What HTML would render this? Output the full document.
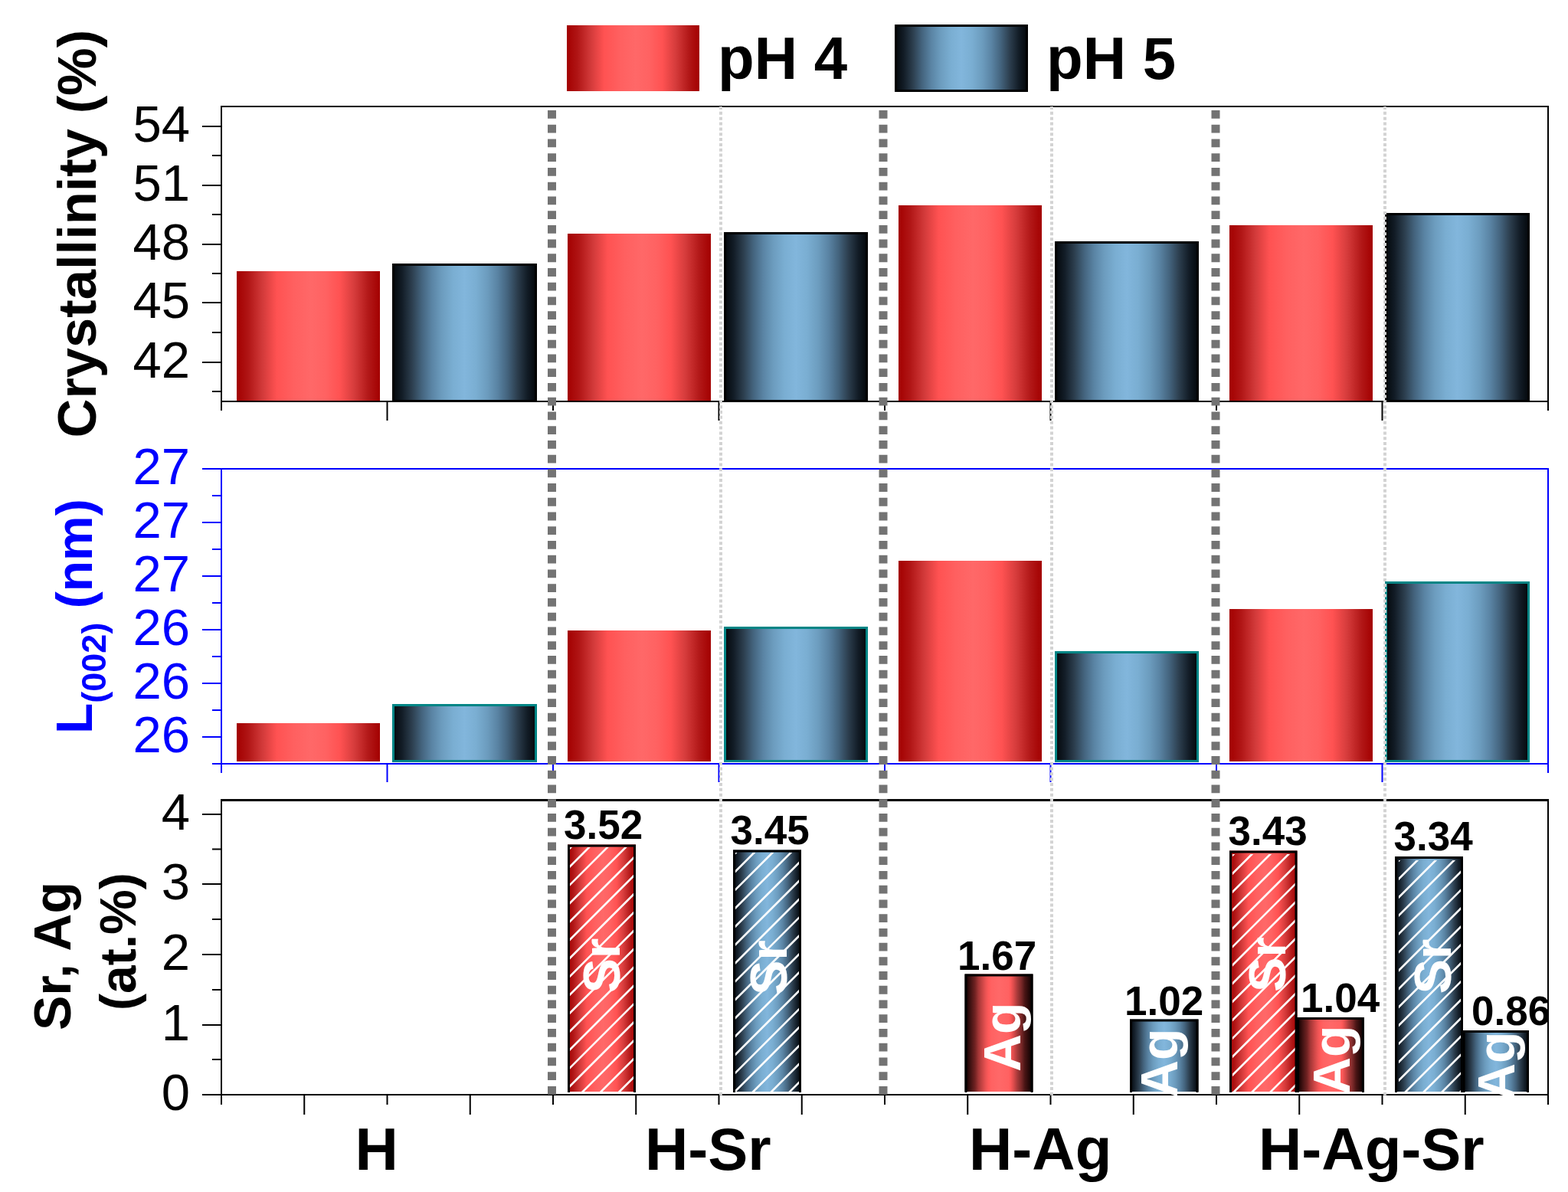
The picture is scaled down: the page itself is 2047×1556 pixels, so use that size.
<!DOCTYPE html>
<html><head><meta charset="utf-8"><title>Crystallinity, L(002) and Sr/Ag content</title>
<style>html,body{margin:0;padding:0;background:#fff;overflow:hidden}svg{display:block}</style>
</head><body>
<svg width="2047" height="1556" viewBox="0 0 2047 1556" font-family="'Liberation Sans', Arial, sans-serif"><defs>
<linearGradient id="gRed" x1="0" y1="0" x2="1" y2="0">
  <stop offset="0" stop-color="#a30000"/>
  <stop offset="0.08" stop-color="#b01515"/>
  <stop offset="0.18" stop-color="#d23a3a"/>
  <stop offset="0.28" stop-color="#ff5252"/>
  <stop offset="0.40" stop-color="#ff6060"/>
  <stop offset="0.52" stop-color="#ff6868"/>
  <stop offset="0.62" stop-color="#ff6262"/>
  <stop offset="0.72" stop-color="#ff5252"/>
  <stop offset="0.82" stop-color="#d63c3c"/>
  <stop offset="0.92" stop-color="#b21818"/>
  <stop offset="1" stop-color="#a30000"/>
</linearGradient>
<linearGradient id="gBlue" x1="0" y1="0" x2="1" y2="0">
  <stop offset="0" stop-color="#04080c"/>
  <stop offset="0.06" stop-color="#121c26"/>
  <stop offset="0.13" stop-color="#2c3e4e"/>
  <stop offset="0.20" stop-color="#44647e"/>
  <stop offset="0.27" stop-color="#5a84a4"/>
  <stop offset="0.34" stop-color="#6c9cbe"/>
  <stop offset="0.42" stop-color="#7aaed2"/>
  <stop offset="0.50" stop-color="#82b6dc"/>
  <stop offset="0.58" stop-color="#7aaed2"/>
  <stop offset="0.66" stop-color="#6c9cbe"/>
  <stop offset="0.73" stop-color="#5a84a4"/>
  <stop offset="0.80" stop-color="#44647e"/>
  <stop offset="0.87" stop-color="#2c3e4e"/>
  <stop offset="0.94" stop-color="#121c26"/>
  <stop offset="1" stop-color="#04080c"/>
</linearGradient>
<linearGradient id="gRedK" x1="0" y1="0" x2="1" y2="0">
  <stop offset="0" stop-color="#120000"/>
  <stop offset="0.03" stop-color="#1a0202"/>
  <stop offset="0.09" stop-color="#451414"/>
  <stop offset="0.15" stop-color="#702222"/>
  <stop offset="0.20" stop-color="#a33636"/>
  <stop offset="0.26" stop-color="#cc4646"/>
  <stop offset="0.31" stop-color="#ec5454"/>
  <stop offset="0.35" stop-color="#ff5a5a"/>
  <stop offset="0.39" stop-color="#ff6262"/>
  <stop offset="0.50" stop-color="#ff6868"/>
  <stop offset="0.64" stop-color="#ff6262"/>
  <stop offset="0.67" stop-color="#ff5a5a"/>
  <stop offset="0.72" stop-color="#d84a4a"/>
  <stop offset="0.77" stop-color="#a83a3a"/>
  <stop offset="0.83" stop-color="#7a2828"/>
  <stop offset="0.88" stop-color="#4a1515"/>
  <stop offset="0.96" stop-color="#1a0505"/>
  <stop offset="1" stop-color="#120000"/>
</linearGradient>
<clipPath id="hc1"><rect x="744" y="1106" width="83" height="319"/></clipPath><clipPath id="hc2"><rect x="960" y="1113" width="83" height="312"/></clipPath><clipPath id="hc3"><rect x="1609" y="1115" width="81.5" height="310"/></clipPath><clipPath id="hc4"><rect x="1826" y="1123" width="81" height="302"/></clipPath><clipPath id="clipLayer"><rect x="289" y="1044" width="1732" height="386"/></clipPath><clipPath id="clipVal"><rect x="289" y="1040" width="1731" height="390"/></clipPath></defs><rect width="2047" height="1556" fill="#fff"/><rect x="740" y="33" width="173" height="86" fill="url(#gRed)"/>
<text x="937" y="103" font-size="78" font-weight="bold" fill="#000" text-anchor="start" >pH 4</text>
<rect x="1169.5" y="33.5" width="171" height="85" fill="url(#gBlue)" stroke="#000" stroke-width="3"/>
<text x="1366" y="103" font-size="78" font-weight="bold" fill="#000" text-anchor="start" >pH 5</text>
<rect x="309" y="354" width="187" height="170" fill="url(#gRed)"/>
<rect x="741" y="305" width="187" height="219" fill="url(#gRed)"/>
<rect x="1173" y="268" width="187" height="256" fill="url(#gRed)"/>
<rect x="1605" y="294" width="187" height="230" fill="url(#gRed)"/>
<rect x="513.5" y="345.5" width="186" height="178" fill="url(#gBlue)" stroke="#000" stroke-width="3"/>
<rect x="946.5" y="304.5" width="185" height="219" fill="url(#gBlue)" stroke="#000" stroke-width="3"/>
<rect x="1378.5" y="316.5" width="185" height="207" fill="url(#gBlue)" stroke="#000" stroke-width="3"/>
<rect x="1809.5" y="279.5" width="186" height="244" fill="url(#gBlue)" stroke="#000" stroke-width="3"/>
<rect x="309" y="944" width="187" height="50" fill="url(#gRed)"/>
<rect x="741" y="823" width="187" height="171" fill="url(#gRed)"/>
<rect x="1173" y="732" width="187" height="262" fill="url(#gRed)"/>
<rect x="1605" y="795" width="187" height="199" fill="url(#gRed)"/>
<rect x="513.5" y="920.5" width="186" height="73" fill="url(#gBlue)" stroke="#008585" stroke-width="3"/>
<rect x="946.5" y="819.5" width="185" height="174" fill="url(#gBlue)" stroke="#008585" stroke-width="3"/>
<rect x="1378.5" y="851.5" width="185" height="142" fill="url(#gBlue)" stroke="#008585" stroke-width="3"/>
<rect x="1809.5" y="760.5" width="186" height="233" fill="url(#gBlue)" stroke="#008585" stroke-width="3"/>
<rect x="741" y="1102.5" width="89" height="322.5" fill="url(#gRed)"/><path d="M742.5,1426V1104.0H828.5V1426" fill="none" stroke="#000" stroke-width="3" stroke-linejoin="miter"/><path clip-path="url(#hc1)" d="M421.20000000000005,1430L750.2,1101M445.10000000000014,1430L774.1000000000001,1101M469.0000000000002,1430L798.0000000000002,1101M492.9000000000003,1430L821.9000000000003,1101M516.8000000000004,1430L845.8000000000004,1101M540.7000000000005,1430L869.7000000000005,1101M564.6000000000006,1430L893.6000000000006,1101M588.5000000000007,1430L917.5000000000007,1101M612.4000000000008,1430L941.4000000000008,1101M636.3000000000006,1430L965.3000000000006,1101M660.2000000000007,1430L989.2000000000007,1101M684.1000000000008,1430L1013.1000000000008,1101M708.0000000000009,1430L1037.000000000001,1101M731.900000000001,1430L1060.900000000001,1101M755.8000000000011,1430L1084.800000000001,1101M779.7000000000012,1430L1108.7000000000012,1101M803.6000000000013,1430L1132.6000000000013,1101M827.5000000000014,1430L1156.5000000000014,1101M851.4000000000015,1430L1180.4000000000015,1101" stroke="#fff" stroke-width="2.6" fill="none"/>
<rect x="957" y="1109.5" width="89" height="315.5" fill="url(#gBlue)"/><path d="M958.5,1426V1111.0H1044.5V1426" fill="none" stroke="#000" stroke-width="3" stroke-linejoin="miter"/><path clip-path="url(#hc2)" d="M643.6999999999998,1430L965.6999999999998,1108M667.5999999999999,1430L989.5999999999999,1108M691.5,1430L1013.5,1108M715.4000000000001,1430L1037.4,1108M739.3000000000002,1430L1061.3000000000002,1108M763.2000000000003,1430L1085.2000000000003,1108M787.1000000000004,1430L1109.1000000000004,1108M811.0000000000005,1430L1133.0000000000005,1108M834.9000000000005,1430L1156.9000000000005,1108M858.8000000000006,1430L1180.8000000000006,1108M882.7000000000007,1430L1204.7000000000007,1108M906.6000000000008,1430L1228.6000000000008,1108M930.5000000000009,1430L1252.500000000001,1108M954.400000000001,1430L1276.400000000001,1108M978.3000000000011,1430L1300.300000000001,1108M1002.2000000000012,1430L1324.2000000000012,1108M1026.1000000000013,1430L1348.1000000000013,1108M1050.0000000000014,1430L1372.0000000000014,1108" stroke="#fff" stroke-width="2.6" fill="none"/>
<rect x="1259.5" y="1271.5" width="89.0" height="153.5" fill="url(#gRedK)"/><path d="M1261.0,1426V1273.0H1347.0V1426" fill="none" stroke="#000" stroke-width="3" stroke-linejoin="miter"/>
<rect x="1475" y="1330.5" width="89.5" height="94.5" fill="url(#gBlue)"/><path d="M1476.5,1426V1332.0H1563.0V1426" fill="none" stroke="#000" stroke-width="3" stroke-linejoin="miter"/>
<rect x="1605" y="1110.5" width="88.5" height="314.5" fill="url(#gRed)"/><path d="M1606.5,1426V1112.0H1692.0V1426" fill="none" stroke="#000" stroke-width="3" stroke-linejoin="miter"/><path clip-path="url(#hc3)" d="M1295.5,1430L1615.5,1110M1319.4,1430L1639.4,1110M1343.3000000000002,1430L1663.3000000000002,1110M1367.2000000000003,1430L1687.2000000000003,1110M1391.1000000000004,1430L1711.1000000000004,1110M1415.0000000000005,1430L1735.0000000000005,1110M1438.9000000000005,1430L1758.9000000000005,1110M1462.8000000000006,1430L1782.8000000000006,1110M1486.7000000000007,1430L1806.7000000000007,1110M1510.6000000000008,1430L1830.6000000000008,1110M1534.500000000001,1430L1854.500000000001,1110M1558.400000000001,1430L1878.400000000001,1110M1582.300000000001,1430L1902.300000000001,1110M1606.2000000000012,1430L1926.2000000000012,1110M1630.1000000000013,1430L1950.1000000000013,1110M1654.0000000000014,1430L1974.0000000000014,1110M1677.9000000000015,1430L1997.9000000000015,1110M1701.8000000000015,1430L2021.8000000000015,1110" stroke="#fff" stroke-width="2.6" fill="none"/>
<rect x="1693" y="1328" width="88" height="97" fill="url(#gRedK)"/><path d="M1694.5,1426V1329.5H1779.5V1426" fill="none" stroke="#000" stroke-width="3" stroke-linejoin="miter"/>
<rect x="1821" y="1118" width="89" height="307" fill="url(#gBlue)"/><path d="M1822.5,1426V1119.5H1908.5V1426" fill="none" stroke="#000" stroke-width="3" stroke-linejoin="miter"/><path clip-path="url(#hc4)" d="M1519.5,1430L1831.5,1118M1543.4,1430L1855.4,1118M1567.3000000000002,1430L1879.3000000000002,1118M1591.2000000000003,1430L1903.2000000000003,1118M1615.1000000000004,1430L1927.1000000000004,1118M1639.0000000000005,1430L1951.0000000000005,1118M1662.9000000000005,1430L1974.9000000000005,1118M1686.8000000000006,1430L1998.8000000000006,1118M1710.7000000000007,1430L2022.7000000000007,1118M1734.6000000000008,1430L2046.6000000000008,1118M1758.500000000001,1430L2070.500000000001,1118M1782.400000000001,1430L2094.400000000001,1118M1806.300000000001,1430L2118.300000000001,1118M1830.2000000000012,1430L2142.200000000001,1118M1854.1000000000013,1430L2166.1000000000013,1118M1878.0000000000014,1430L2190.0000000000014,1118M1901.9000000000015,1430L2213.9000000000015,1118M1925.8000000000015,1430L2237.8000000000015,1118" stroke="#fff" stroke-width="2.6" fill="none"/>
<rect x="1909.5" y="1345" width="86.5" height="80" fill="url(#gBlue)"/><path d="M1911.0,1426V1346.5H1994.5V1426" fill="none" stroke="#000" stroke-width="3" stroke-linejoin="miter"/>
<line x1="288" y1="139" x2="2022" y2="139" stroke="#000" stroke-width="2"/>
<line x1="288" y1="524" x2="2022" y2="524" stroke="#000" stroke-width="2"/>
<line x1="289" y1="138" x2="289" y2="525" stroke="#000" stroke-width="2"/>
<line x1="2021" y1="138" x2="2021" y2="525" stroke="#000" stroke-width="2"/>
<line x1="288" y1="612" x2="2022" y2="612" stroke="#0000ff" stroke-width="2"/>
<line x1="288" y1="997" x2="2022" y2="997" stroke="#0000ff" stroke-width="2"/>
<line x1="289" y1="611" x2="289" y2="998" stroke="#0000ff" stroke-width="2"/>
<line x1="2021" y1="611" x2="2021" y2="998" stroke="#0000ff" stroke-width="2"/>
<line x1="288" y1="1044.5" x2="2022" y2="1044.5" stroke="#000" stroke-width="3"/>
<line x1="288" y1="1429" x2="2022" y2="1429" stroke="#000" stroke-width="2"/>
<line x1="289" y1="1043.5" x2="289" y2="1430" stroke="#000" stroke-width="2"/>
<line x1="2021" y1="1043.5" x2="2021" y2="1430" stroke="#000" stroke-width="2"/>
<line x1="264" y1="165" x2="289" y2="165" stroke="#000" stroke-width="2"/>
<line x1="264" y1="242" x2="289" y2="242" stroke="#000" stroke-width="2"/>
<line x1="264" y1="319" x2="289" y2="319" stroke="#000" stroke-width="2"/>
<line x1="264" y1="395" x2="289" y2="395" stroke="#000" stroke-width="2"/>
<line x1="264" y1="473" x2="289" y2="473" stroke="#000" stroke-width="2"/>
<line x1="277" y1="203" x2="289" y2="203" stroke="#000" stroke-width="2"/>
<line x1="277" y1="280" x2="289" y2="280" stroke="#000" stroke-width="2"/>
<line x1="277" y1="357" x2="289" y2="357" stroke="#000" stroke-width="2"/>
<line x1="277" y1="434" x2="289" y2="434" stroke="#000" stroke-width="2"/>
<line x1="277" y1="511" x2="289" y2="511" stroke="#000" stroke-width="2"/>
<text x="248" y="185" font-size="67" font-weight="normal" fill="#000" text-anchor="end" >54</text>
<text x="248" y="262" font-size="67" font-weight="normal" fill="#000" text-anchor="end" >51</text>
<text x="248" y="339" font-size="67" font-weight="normal" fill="#000" text-anchor="end" >48</text>
<text x="248" y="415" font-size="67" font-weight="normal" fill="#000" text-anchor="end" >45</text>
<text x="248" y="493" font-size="67" font-weight="normal" fill="#000" text-anchor="end" >42</text>
<line x1="264" y1="612" x2="289" y2="612" stroke="#0000ff" stroke-width="2"/>
<line x1="264" y1="682" x2="289" y2="682" stroke="#0000ff" stroke-width="2"/>
<line x1="264" y1="752" x2="289" y2="752" stroke="#0000ff" stroke-width="2"/>
<line x1="264" y1="822" x2="289" y2="822" stroke="#0000ff" stroke-width="2"/>
<line x1="264" y1="892" x2="289" y2="892" stroke="#0000ff" stroke-width="2"/>
<line x1="264" y1="962" x2="289" y2="962" stroke="#0000ff" stroke-width="2"/>
<line x1="277" y1="647" x2="289" y2="647" stroke="#0000ff" stroke-width="2"/>
<line x1="277" y1="717" x2="289" y2="717" stroke="#0000ff" stroke-width="2"/>
<line x1="277" y1="787" x2="289" y2="787" stroke="#0000ff" stroke-width="2"/>
<line x1="277" y1="857" x2="289" y2="857" stroke="#0000ff" stroke-width="2"/>
<line x1="277" y1="927" x2="289" y2="927" stroke="#0000ff" stroke-width="2"/>
<line x1="277" y1="997" x2="289" y2="997" stroke="#0000ff" stroke-width="2"/>
<text x="248" y="632" font-size="67" font-weight="normal" fill="#0000ff" text-anchor="end" >27</text>
<text x="248" y="702" font-size="67" font-weight="normal" fill="#0000ff" text-anchor="end" >27</text>
<text x="248" y="772" font-size="67" font-weight="normal" fill="#0000ff" text-anchor="end" >27</text>
<text x="248" y="842" font-size="67" font-weight="normal" fill="#0000ff" text-anchor="end" >26</text>
<text x="248" y="912" font-size="67" font-weight="normal" fill="#0000ff" text-anchor="end" >26</text>
<text x="248" y="982" font-size="67" font-weight="normal" fill="#0000ff" text-anchor="end" >26</text>
<line x1="264" y1="1063" x2="289" y2="1063" stroke="#000" stroke-width="2"/>
<line x1="264" y1="1154" x2="289" y2="1154" stroke="#000" stroke-width="2"/>
<line x1="264" y1="1246" x2="289" y2="1246" stroke="#000" stroke-width="2"/>
<line x1="264" y1="1338" x2="289" y2="1338" stroke="#000" stroke-width="2"/>
<line x1="264" y1="1429" x2="289" y2="1429" stroke="#000" stroke-width="2"/>
<line x1="277" y1="1108.5" x2="289" y2="1108.5" stroke="#000" stroke-width="2"/>
<line x1="277" y1="1200" x2="289" y2="1200" stroke="#000" stroke-width="2"/>
<line x1="277" y1="1292" x2="289" y2="1292" stroke="#000" stroke-width="2"/>
<line x1="277" y1="1383" x2="289" y2="1383" stroke="#000" stroke-width="2"/>
<text x="248" y="1083" font-size="67" font-weight="normal" fill="#000" text-anchor="end" >4</text>
<text x="248" y="1174" font-size="67" font-weight="normal" fill="#000" text-anchor="end" >3</text>
<text x="248" y="1266" font-size="67" font-weight="normal" fill="#000" text-anchor="end" >2</text>
<text x="248" y="1358" font-size="67" font-weight="normal" fill="#000" text-anchor="end" >1</text>
<text x="248" y="1449" font-size="67" font-weight="normal" fill="#000" text-anchor="end" >0</text>
<line x1="289.0" y1="1429" x2="289.0" y2="1442" stroke="#000" stroke-width="2"/>
<line x1="397.25" y1="1429" x2="397.25" y2="1455" stroke="#000" stroke-width="2"/>
<line x1="505.5" y1="1429" x2="505.5" y2="1442" stroke="#000" stroke-width="2"/>
<line x1="613.75" y1="1429" x2="613.75" y2="1455" stroke="#000" stroke-width="2"/>
<line x1="722.0" y1="1429" x2="722.0" y2="1442" stroke="#000" stroke-width="2"/>
<line x1="830.25" y1="1429" x2="830.25" y2="1455" stroke="#000" stroke-width="2"/>
<line x1="938.5" y1="1429" x2="938.5" y2="1442" stroke="#000" stroke-width="2"/>
<line x1="1046.75" y1="1429" x2="1046.75" y2="1455" stroke="#000" stroke-width="2"/>
<line x1="1155.0" y1="1429" x2="1155.0" y2="1442" stroke="#000" stroke-width="2"/>
<line x1="1263.25" y1="1429" x2="1263.25" y2="1455" stroke="#000" stroke-width="2"/>
<line x1="1371.5" y1="1429" x2="1371.5" y2="1442" stroke="#000" stroke-width="2"/>
<line x1="1479.75" y1="1429" x2="1479.75" y2="1455" stroke="#000" stroke-width="2"/>
<line x1="1588.0" y1="1429" x2="1588.0" y2="1442" stroke="#000" stroke-width="2"/>
<line x1="1696.25" y1="1429" x2="1696.25" y2="1455" stroke="#000" stroke-width="2"/>
<line x1="1804.5" y1="1429" x2="1804.5" y2="1442" stroke="#000" stroke-width="2"/>
<line x1="1912.75" y1="1429" x2="1912.75" y2="1455" stroke="#000" stroke-width="2"/>
<line x1="2021.0" y1="1429" x2="2021.0" y2="1442" stroke="#000" stroke-width="2"/>
<line x1="289.0" y1="524" x2="289.0" y2="536" stroke="#000" stroke-width="2"/>
<line x1="289.0" y1="997" x2="289.0" y2="1009" stroke="#0000ff" stroke-width="2"/>
<line x1="505.5" y1="524" x2="505.5" y2="549" stroke="#000" stroke-width="2"/>
<line x1="505.5" y1="997" x2="505.5" y2="1021" stroke="#0000ff" stroke-width="2"/>
<line x1="722.0" y1="524" x2="722.0" y2="536" stroke="#000" stroke-width="2"/>
<line x1="722.0" y1="997" x2="722.0" y2="1009" stroke="#0000ff" stroke-width="2"/>
<line x1="938.5" y1="524" x2="938.5" y2="549" stroke="#000" stroke-width="2"/>
<line x1="938.5" y1="997" x2="938.5" y2="1021" stroke="#0000ff" stroke-width="2"/>
<line x1="1155.0" y1="524" x2="1155.0" y2="536" stroke="#000" stroke-width="2"/>
<line x1="1155.0" y1="997" x2="1155.0" y2="1009" stroke="#0000ff" stroke-width="2"/>
<line x1="1371.5" y1="524" x2="1371.5" y2="549" stroke="#000" stroke-width="2"/>
<line x1="1371.5" y1="997" x2="1371.5" y2="1021" stroke="#0000ff" stroke-width="2"/>
<line x1="1588.0" y1="524" x2="1588.0" y2="536" stroke="#000" stroke-width="2"/>
<line x1="1588.0" y1="997" x2="1588.0" y2="1009" stroke="#0000ff" stroke-width="2"/>
<line x1="1804.5" y1="524" x2="1804.5" y2="549" stroke="#000" stroke-width="2"/>
<line x1="1804.5" y1="997" x2="1804.5" y2="1021" stroke="#0000ff" stroke-width="2"/>
<line x1="2021.0" y1="524" x2="2021.0" y2="536" stroke="#000" stroke-width="2"/>
<line x1="2021.0" y1="997" x2="2021.0" y2="1009" stroke="#0000ff" stroke-width="2"/>
<text transform="translate(809,1296.5) rotate(-90)" font-size="68" font-weight="bold" fill="#fff" text-anchor="start">Sr</text>
<text transform="translate(1027,1299) rotate(-90)" font-size="68" font-weight="bold" fill="#fff" text-anchor="start">Sr</text>
<text transform="translate(1677.5,1295) rotate(-90)" font-size="68" font-weight="bold" fill="#fff" text-anchor="start">Sr</text>
<text transform="translate(1894,1297.5) rotate(-90)" font-size="68" font-weight="bold" fill="#fff" text-anchor="start">Sr</text>
<text transform="translate(1332,1399) rotate(-90)" font-size="68" font-weight="bold" fill="#fff" text-anchor="start">Ag</text>
<g clip-path="url(#clipLayer)"><text transform="translate(1537,1433) rotate(-90)" font-size="68" font-weight="bold" fill="#fff" text-anchor="start">Ag</text></g>
<g clip-path="url(#clipLayer)"><text transform="translate(1761.5,1429) rotate(-90)" font-size="68" font-weight="bold" fill="#fff" text-anchor="start">Ag</text></g>
<g clip-path="url(#clipLayer)"><text transform="translate(1977,1437) rotate(-90)" font-size="68" font-weight="bold" fill="#fff" text-anchor="start">Ag</text></g>
<g clip-path="url(#clipVal)">
<text x="736" y="1095" font-size="53" font-weight="bold" fill="#000" text-anchor="start" >3.52</text>
<text x="953.5" y="1102" font-size="53" font-weight="bold" fill="#000" text-anchor="start" >3.45</text>
<text x="1250" y="1265.5" font-size="53" font-weight="bold" fill="#000" text-anchor="start" >1.67</text>
<text x="1468" y="1325" font-size="53" font-weight="bold" fill="#000" text-anchor="start" >1.02</text>
<text x="1603.5" y="1102.7" font-size="53" font-weight="bold" fill="#000" text-anchor="start" >3.43</text>
<text x="1698" y="1321.3" font-size="53" font-weight="bold" fill="#000" text-anchor="start" >1.04</text>
<text x="1819.5" y="1110.4" font-size="53" font-weight="bold" fill="#000" text-anchor="start" >3.34</text>
<text x="1921" y="1338" font-size="53" font-weight="bold" fill="#000" text-anchor="start" >0.86</text>
</g>
<line x1="941" y1="139" x2="941" y2="1430" stroke="#d3d3d3" stroke-width="4" stroke-dasharray="4 2.845"/>
<line x1="1373" y1="139" x2="1373" y2="1430" stroke="#d3d3d3" stroke-width="4" stroke-dasharray="4 2.845"/>
<line x1="1808" y1="139" x2="1808" y2="1430" stroke="#d3d3d3" stroke-width="4" stroke-dasharray="4 2.845"/>
<line x1="720.5" y1="144" x2="720.5" y2="1431" stroke="#737373" stroke-width="11" stroke-dasharray="10.8 7.935"/>
<line x1="1153" y1="144" x2="1153" y2="1431" stroke="#737373" stroke-width="11" stroke-dasharray="10.8 7.935"/>
<line x1="1587" y1="144" x2="1587" y2="1431" stroke="#737373" stroke-width="11" stroke-dasharray="10.8 7.935"/>
<text transform="translate(124.5,571.5) rotate(-90)" font-size="70.5" font-weight="bold" fill="#000" text-anchor="start">Crystallinity (%)</text>
<text transform="translate(119.5,958) rotate(-90)" font-size="66" font-weight="bold" fill="#0000ff">L<tspan font-size="45" dy="18">(002)</tspan><tspan dy="-18"> (nm)</tspan></text>
<text transform="translate(92,1345) rotate(-90)" font-size="68" font-weight="bold" fill="#000" text-anchor="start">Sr, Ag</text>
<text transform="translate(176.5,1319) rotate(-90)" font-size="66" font-weight="bold" fill="#000" text-anchor="start">(at.%)</text>
<text x="463.5" y="1527" font-size="78" font-weight="bold" fill="#000" text-anchor="start" >H</text>
<text x="842" y="1527" font-size="78" font-weight="bold" fill="#000" text-anchor="start" >H-Sr</text>
<text x="1265" y="1527" font-size="78" font-weight="bold" fill="#000" text-anchor="start" >H-Ag</text>
<text x="1643" y="1527" font-size="78" font-weight="bold" fill="#000" text-anchor="start" >H-Ag-Sr</text></svg>
</body></html>
